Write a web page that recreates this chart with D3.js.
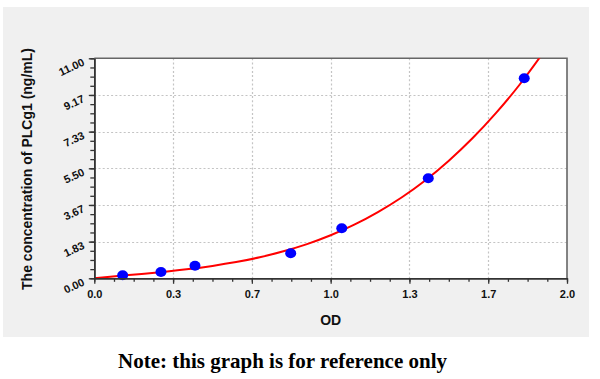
<!DOCTYPE html>
<html><head><meta charset="utf-8">
<script src="https://cdn.jsdelivr.net/npm/d3@7"></script>
<style>html,body{margin:0;padding:0;background:#fff;} svg{display:block}</style>
</head><body>
<svg id="c" width="600" height="379"></svg>
<script>
// Standard points (OD, concentration)
const stdOD   = [0.120, 0.282, 0.426, 0.831, 1.047, 1.413, 1.819];
const stdConc = [0.156, 0.313, 0.625, 1.25, 2.5, 5, 10];
// Fitted curve, every 0.1 OD
const fitOD   = [0, 0.1, 0.2, 0.3, 0.4, 0.5, 0.6, 0.7, 0.8, 0.9, 1.0, 1.1, 1.2, 1.3, 1.4, 1.5, 1.6, 1.7, 1.8, 1.9];
const fitConc = [0, 0.11, 0.22, 0.33, 0.46, 0.62, 0.81, 1.05, 1.35, 1.71, 2.15, 2.68, 3.31, 4.04, 4.89, 5.88, 7.00, 8.27, 9.69, 11.29];
// Axis ticks
const xTickValues = [0, 1/3, 2/3, 1, 4/3, 5/3, 2];
const xTickLabels = ["0.0", "0.3", "0.7", "1.0", "1.3", "1.7", "2.0"];
const yTickValues = [0, 11/6, 22/6, 33/6, 44/6, 55/6, 11];
const yTickLabels = ["0.00", "1.83", "3.67", "5.50", "7.33", "9.17", "11.00"];
const xTitle = "OD";
const yTitle = "The concentration of PLCg1 (ng/mL)";
const noteText = "Note: this graph is for reference only";

const svg = d3.select("#c");
const L = 94.3, R = 567, T = 58.3, B = 278.3;
const x = d3.scaleLinear().domain([0, 2]).range([L, R]);
const y = d3.scaleLinear().domain([0, 11]).range([B, T]);

// panel background
svg.append("rect").attr("x", 3).attr("y", 7).attr("width", 586).attr("height", 330).attr("fill", "#f0f0f0");
svg.append("rect").attr("x", L).attr("y", T).attr("width", R - L).attr("height", B - T).attr("fill", "#fff");

// grid
const grid = svg.append("g").attr("stroke", "#c4c4c4").attr("stroke-width", 1.2).attr("stroke-dasharray", "2,2.2");
grid.selectAll("line.v").data(xTickValues.slice(1, -1)).join("line")
  .attr("x1", d => Math.round(x(d)) + 0.5).attr("x2", d => Math.round(x(d)) + 0.5).attr("y1", T).attr("y2", B);
grid.selectAll("line.h").data(yTickValues.slice(1, -1)).join("line").attr("class", "h")
  .attr("y1", d => Math.round(y(d)) + 0.5).attr("y2", d => Math.round(y(d)) + 0.5).attr("x1", L).attr("x2", R);

// frame
svg.append("path").attr("d", `M${L},${T}H${R}V${B}`).attr("fill", "none").attr("stroke", "#666").attr("stroke-width", 1.6);

// clip
svg.append("clipPath").attr("id", "clip").append("rect").attr("x", L).attr("y", T).attr("width", R - L).attr("height", B - T);

// curve
const fit = fitOD.map((d, i) => [d, fitConc[i]]);
svg.append("path").datum(fit).attr("clip-path", "url(#clip)")
  .attr("d", d3.line().x(d => x(d[0])).y(d => y(d[1])).curve(d3.curveNatural))
  .attr("fill", "none").attr("stroke", "#ff0000").attr("stroke-width", 2);

// points
svg.append("g").selectAll("ellipse").data(stdOD.map((d, i) => [d, stdConc[i]])).join("ellipse")
  .attr("cx", d => x(d[0])).attr("cy", d => y(d[1])).attr("rx", 5.5).attr("ry", 5).attr("fill", "#0000ff");

// axes
const font = "'Liberation Sans', Arial, sans-serif";
const xMinor = svg.append("g").attr("transform", `translate(0,${B})`)
  .call(d3.axisBottom(x).tickValues(d3.range(25).map(i => i / 12)).tickSize(3.5).tickSizeOuter(0).tickFormat(""));
const xAxis = svg.append("g").attr("transform", `translate(0,${B})`)
  .call(d3.axisBottom(x).tickValues(xTickValues).tickSize(5.5).tickSizeOuter(0).tickPadding(6).tickFormat((d, i) => xTickLabels[i]));
const yMinor = svg.append("g").attr("transform", `translate(${L},0)`)
  .call(d3.axisLeft(y).tickValues(d3.range(25).map(i => i * 11 / 24)).tickSize(4).tickSizeOuter(0).tickFormat(""));
const yAxis = svg.append("g").attr("transform", `translate(${L},0)`)
  .call(d3.axisLeft(y).tickValues(yTickValues).tickSize(5.5).tickSizeOuter(0).tickFormat((d, i) => yTickLabels[i]));
[xMinor, xAxis, yMinor, yAxis].forEach(g => {
  g.select(".domain").attr("stroke", "#333").attr("stroke-width", 1.6);
  g.selectAll(".tick line").attr("stroke", "#333").attr("stroke-width", 1.3);
});
xAxis.selectAll("text").attr("font-family", font).attr("font-weight", "bold").attr("font-size", 11).attr("fill", "#111");
yAxis.selectAll("text").attr("font-family", font).attr("font-weight", "bold").attr("font-size", 11).attr("fill", "#111")
  .attr("x", null).attr("dy", null).attr("text-anchor", "end")
  .attr("transform", "translate(-9,6) rotate(-25)");

// titles
svg.append("text").attr("x", (L + R) / 2).attr("y", 325).attr("text-anchor", "middle")
  .attr("font-family", font).attr("font-weight", "bold").attr("font-size", 14).attr("fill", "#111").text(xTitle);
svg.append("text").attr("transform", `translate(32,169) rotate(-90)`).attr("text-anchor", "middle")
  .attr("font-family", font).attr("font-weight", "bold").attr("font-size", 14).attr("fill", "#111").text(yTitle);
svg.append("text").attr("x", 282.5).attr("y", 368.3).attr("text-anchor", "middle")
  .attr("font-family", "'Liberation Serif', 'DejaVu Serif', serif").attr("font-weight", "bold").attr("font-size", 21).attr("fill", "#000").text(noteText);
</script>
</body></html>
